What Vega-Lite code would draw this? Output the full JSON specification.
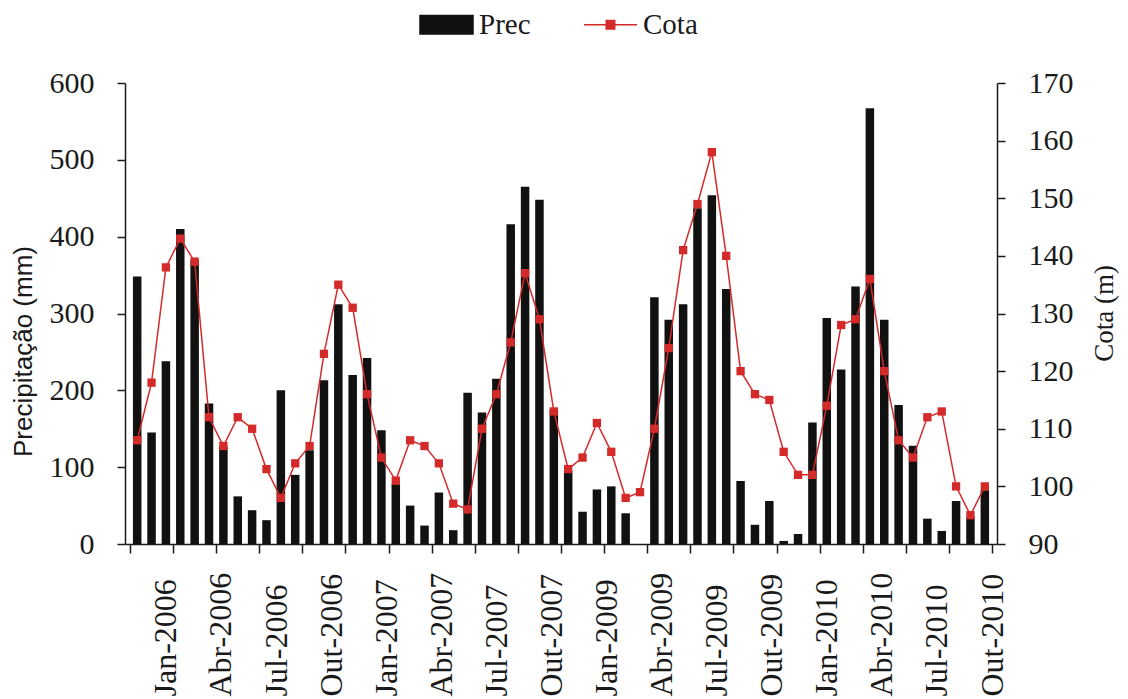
{
  "$schema": "https://vega.github.io/schema/vega-lite/v6.json",
  "width": 872,
  "height": 461,
  "autosize": {"type": "none"},
  "padding": {"left": 125, "top": 83, "right": 131, "bottom": 155},
  "background": "white",
  "config": {
    "view": {"stroke": null},
    "axis": {"grid": false, "domainColor": "#1a1a1a", "domainWidth": 1.5, "tickColor": "#1a1a1a", "tickWidth": 1.5, "labelColor": "#1a1a1a", "titleColor": "#1a1a1a", "titleFontWeight": "normal"}
  },
  "data": {
    "values": [
      {"i": 0, "prec": 348, "cota": 108},
      {"i": 1, "prec": 145, "cota": 118},
      {"i": 2, "prec": 238, "cota": 138},
      {"i": 3, "prec": 410, "cota": 143},
      {"i": 4, "prec": 370, "cota": 139},
      {"i": 5, "prec": 183, "cota": 112},
      {"i": 6, "prec": 127, "cota": 107},
      {"i": 7, "prec": 62, "cota": 112},
      {"i": 8, "prec": 44, "cota": 110},
      {"i": 9, "prec": 31, "cota": 103},
      {"i": 10, "prec": 200, "cota": 98},
      {"i": 11, "prec": 90, "cota": 104},
      {"i": 12, "prec": 122, "cota": 107},
      {"i": 13, "prec": 213, "cota": 123},
      {"i": 14, "prec": 312, "cota": 135},
      {"i": 15, "prec": 220, "cota": 131},
      {"i": 16, "prec": 242, "cota": 116},
      {"i": 17, "prec": 148, "cota": 105},
      {"i": 18, "prec": 78, "cota": 101},
      {"i": 19, "prec": 50, "cota": 108},
      {"i": 20, "prec": 24, "cota": 107},
      {"i": 21, "prec": 67, "cota": 104},
      {"i": 22, "prec": 18, "cota": 97},
      {"i": 23, "prec": 197, "cota": 96},
      {"i": 24, "prec": 171, "cota": 110},
      {"i": 25, "prec": 215, "cota": 116},
      {"i": 26, "prec": 416, "cota": 125},
      {"i": 27, "prec": 465, "cota": 137},
      {"i": 28, "prec": 448, "cota": 129},
      {"i": 29, "prec": 175, "cota": 113},
      {"i": 30, "prec": 95, "cota": 103},
      {"i": 31, "prec": 42, "cota": 105},
      {"i": 32, "prec": 71, "cota": 111},
      {"i": 33, "prec": 75, "cota": 106},
      {"i": 34, "prec": 40, "cota": 98},
      {"i": 35, "prec": 0, "cota": 99},
      {"i": 36, "prec": 321, "cota": 110},
      {"i": 37, "prec": 292, "cota": 124},
      {"i": 38, "prec": 312, "cota": 141},
      {"i": 39, "prec": 437, "cota": 149},
      {"i": 40, "prec": 454, "cota": 158},
      {"i": 41, "prec": 332, "cota": 140},
      {"i": 42, "prec": 82, "cota": 120},
      {"i": 43, "prec": 25, "cota": 116},
      {"i": 44, "prec": 56, "cota": 115},
      {"i": 45, "prec": 4, "cota": 106},
      {"i": 46, "prec": 13, "cota": 102},
      {"i": 47, "prec": 158, "cota": 102},
      {"i": 48, "prec": 294, "cota": 114},
      {"i": 49, "prec": 227, "cota": 128},
      {"i": 50, "prec": 335, "cota": 129},
      {"i": 51, "prec": 567, "cota": 136},
      {"i": 52, "prec": 292, "cota": 120},
      {"i": 53, "prec": 181, "cota": 108},
      {"i": 54, "prec": 128, "cota": 105},
      {"i": 55, "prec": 33, "cota": 112},
      {"i": 56, "prec": 17, "cota": 113},
      {"i": 57, "prec": 56, "cota": 100},
      {"i": 58, "prec": 35, "cota": 95},
      {"i": 59, "prec": 70, "cota": 100}
    ]
  },
  "encoding": {
    "x": {
      "field": "i",
      "type": "quantitative",
      "scale": {"domain": [-0.5, 59.5], "nice": false, "zero": false},
      "axis": {
        "title": null,
        "values": [-0.5, 2.5, 5.5, 8.5, 11.5, 14.5, 17.5, 20.5, 23.5, 26.5, 29.5, 32.5, 35.5, 38.5, 41.5, 44.5, 47.5, 50.5, 53.5, 56.5, 59.5, 2, 5.8333, 9.6667, 13.5, 17.3333, 21.1667, 25, 28.8333, 32.6667, 36.5, 40.3333, 44.1667, 48, 51.8333, 55.6667],
        "labelExpr": "abs((datum.value-2)/3.8333 - round((datum.value-2)/3.8333)) < 0.02 ? ['Jan-2006','Abr-2006','Jul-2006','Out-2006','Jan-2007','Abr-2007','Jul-2007','Out-2007','Jan-2009','Abr-2009','Jul-2009','Out-2009','Jan-2010','Abr-2010','Jul-2010','Out-2010'][round((datum.value-2)/3.8333)] : ''",
        "labelAngle": 270,
        "labelAlign": "left",
        "labelBaseline": "middle",
        "labelPadding": 143,
        "labelFont": "Liberation Serif",
        "labelFontSize": 32,
        "labelOverlap": false,
        "labelBound": false,
        "labelFlush": false,
        "tickSize": 9,
        "tickColor": {"condition": {"test": "abs((datum.value+0.5)/3 - round((datum.value+0.5)/3)) < 0.01", "value": "#1a1a1a"}, "value": "transparent"}
      }
    }
  },
  "layer": [
    {
      "mark": {"type": "bar", "orient": "vertical", "size": 8.5},
      "encoding": {
        "y": {
          "field": "prec",
          "type": "quantitative",
          "scale": {"domain": [0, 600], "nice": false},
          "axis": {
            "orient": "left",
            "values": [0, 100, 200, 300, 400, 500, 600],
            "title": "Precipitação (mm)",
            "titleFont": "Liberation Sans",
            "titleFontSize": 26,
            "titleAngle": 270,
            "titleX": -94,
            "titleY": 268,
            "titleAlign": "center",
            "titleBaseline": "alphabetic",
            "labelFont": "Liberation Serif",
            "labelFontSize": 30,
            "labelPadding": 23,
            "tickSize": 8
          }
        },
        "color": {
          "datum": "Prec",
          "type": "nominal",
          "scale": {"domain": ["Prec", "Cota"], "range": ["#111111", "#d42a2a"]},
          "legend": {
            "orient": "none",
            "direction": "horizontal",
            "legendX": 294,
            "legendY": -86,
            "title": null,
            "padding": 0,
            "symbolSize": 2809,
            "symbolStrokeWidth": 1.5,
            "labelFont": "Liberation Serif",
            "labelFontSize": 29,
            "labelColor": "#1a1a1a",
            "labelOffset": 5,
            "columnPadding": 50,
            "encode": {
              "symbols": {
                "update": {
                  "shape": {"signal": "datum.value === 'Prec' ? 'M-1,-0.35L1,-0.35L1,0.35L-1,0.35Z' : 'M-1,0L1,0M-0.16,-0.16L0.16,-0.16L0.16,0.16L-0.16,0.16Z'"},
                  "fill": {"signal": "datum.value === 'Prec' ? '#111111' : '#d42a2a'"},
                  "stroke": {"signal": "datum.value === 'Prec' ? '#111111' : '#d42a2a'"},
                  "strokeWidth": {"value": 1.5},
                  "opacity": {"value": 1}
                }
              }
            }
          }
        }
      }
    },
    {
      "encoding": {
        "y": {
          "field": "cota",
          "type": "quantitative",
          "scale": {"domain": [90, 170], "nice": false, "zero": false},
          "axis": {
            "orient": "right",
            "values": [90, 100, 110, 120, 130, 140, 150, 160, 170],
            "title": "Cota (m)",
            "titleFont": "Liberation Serif",
            "titleFontSize": 27,
            "titleAngle": 270,
            "titleX": 115,
            "titleY": 230,
            "titleAlign": "center",
            "titleBaseline": "alphabetic",
            "labelFont": "Liberation Serif",
            "labelFontSize": 30,
            "labelPadding": 23,
            "tickSize": 8
          }
        },
        "color": {"datum": "Cota", "type": "nominal"}
      },
      "layer": [
        {"mark": {"type": "line", "strokeWidth": 1.5}},
        {"mark": {"type": "point", "shape": "square", "filled": true, "size": 69, "opacity": 1}}
      ]
    }
  ],
  "resolve": {"scale": {"y": "independent"}}
}
